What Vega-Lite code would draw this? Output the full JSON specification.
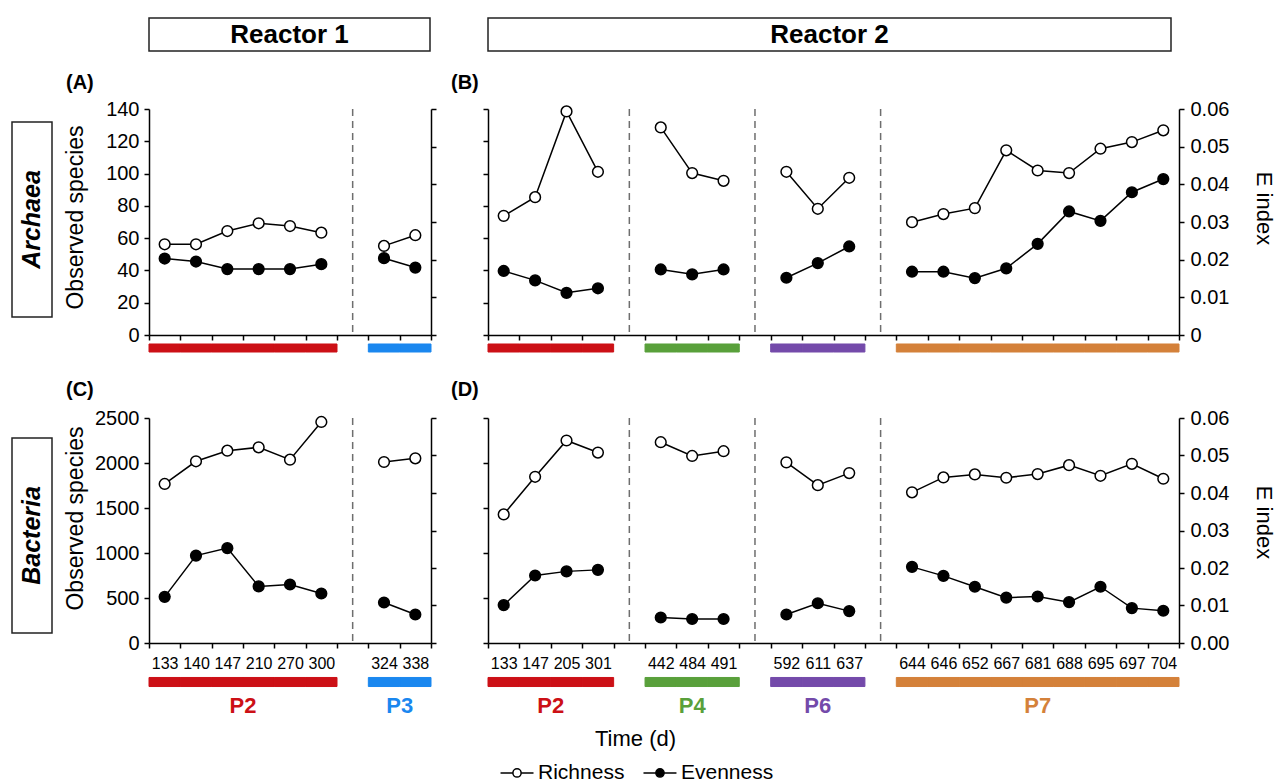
{
  "$schema": "https://vega.github.io/schema/vega-lite/v6.json",
  "padding": {"left": 11, "top": 17, "right": 0, "bottom": 0},
  "config": {
    "font": "Liberation Sans",
    "view": {"stroke": null},
    "axis": {"grid": false, "domainColor": "black", "tickColor": "black", "labelColor": "black", "titleColor": "black", "domainWidth": 1.5, "tickWidth": 1.5, "tickSize": 5, "labelFont": "Liberation Sans", "titleFont": "Liberation Sans", "titleFontWeight": "normal"},
    "title": {"font": "Liberation Sans", "color": "black"}
  },
  "datasets": {
    "r1": [
      {"sample": "133", "phase": "P2", "ar": 56.2, "ae": 0.0203, "br": 1767, "be": 0.0123},
      {"sample": "140", "phase": "P2", "ar": 56.2, "ae": 0.0195, "br": 2019, "be": 0.0233},
      {"sample": "147", "phase": "P2", "ar": 64.4, "ae": 0.0175, "br": 2137, "be": 0.0253},
      {"sample": "210", "phase": "P2", "ar": 69.2, "ae": 0.0175, "br": 2174, "be": 0.0151},
      {"sample": "270", "phase": "P2", "ar": 67.5, "ae": 0.0175, "br": 2037, "be": 0.0156},
      {"sample": "300", "phase": "P2", "ar": 63.4, "ae": 0.0188, "br": 2456, "be": 0.0132},
      {"sample": "324", "phase": "P3", "ar": 55.2, "ae": 0.0204, "br": 2011, "be": 0.0108},
      {"sample": "338", "phase": "P3", "ar": 61.8, "ae": 0.0179, "br": 2052, "be": 0.0076}
    ],
    "r2": [
      {"sample": "133", "phase": "P2", "ar": 73.8, "ae": 0.0170, "br": 1429, "be": 0.0101},
      {"sample": "147", "phase": "P2", "ar": 85.4, "ae": 0.0145, "br": 1847, "be": 0.0180},
      {"sample": "205", "phase": "P2", "ar": 138.5, "ae": 0.0112, "br": 2250, "be": 0.0191},
      {"sample": "301", "phase": "P2", "ar": 101.1, "ae": 0.0124, "br": 2116, "be": 0.0195},
      {"sample": "442", "phase": "P4", "ar": 128.6, "ae": 0.0174, "br": 2231, "be": 0.0068},
      {"sample": "484", "phase": "P4", "ar": 100.3, "ae": 0.0161, "br": 2078, "be": 0.0064},
      {"sample": "491", "phase": "P4", "ar": 95.5, "ae": 0.0174, "br": 2131, "be": 0.0064},
      {"sample": "592", "phase": "P6", "ar": 101.1, "ae": 0.0152, "br": 2007, "be": 0.0076},
      {"sample": "611", "phase": "P6", "ar": 78.2, "ae": 0.0191, "br": 1754, "be": 0.0106},
      {"sample": "637", "phase": "P6", "ar": 97.4, "ae": 0.0235, "br": 1888, "be": 0.0085},
      {"sample": "644", "phase": "P7", "ar": 69.9, "ae": 0.0168, "br": 1674, "be": 0.0203},
      {"sample": "646", "phase": "P7", "ar": 74.9, "ae": 0.0168, "br": 1840, "be": 0.0179},
      {"sample": "652", "phase": "P7", "ar": 78.6, "ae": 0.0151, "br": 1873, "be": 0.0150},
      {"sample": "667", "phase": "P7", "ar": 114.4, "ae": 0.0177, "br": 1836, "be": 0.0121},
      {"sample": "681", "phase": "P7", "ar": 101.9, "ae": 0.0242, "br": 1877, "be": 0.0124},
      {"sample": "688", "phase": "P7", "ar": 100.3, "ae": 0.0328, "br": 1976, "be": 0.0109},
      {"sample": "695", "phase": "P7", "ar": 115.4, "ae": 0.0303, "br": 1858, "be": 0.0150},
      {"sample": "697", "phase": "P7", "ar": 119.5, "ae": 0.0379, "br": 1991, "be": 0.0093},
      {"sample": "704", "phase": "P7", "ar": 126.8, "ae": 0.0414, "br": 1825, "be": 0.0086}
    ],
    "gap1": [{"sample": "g1"}],
    "gap2": [{"sample": "g1"}, {"sample": "g2"}, {"sample": "g3"}],
    "lab1": [{"t": "Reactor 1"}],
    "lab2": [{"t": "Reactor 2"}],
    "labA": [{"t": "Archaea"}],
    "labB": [{"t": "Bacteria"}],
    "leg": [{"metric": "Richness"}, {"metric": "Evenness"}]
  },
  "concat": [
    {"width": 80, "height": 33, "data": {"values": []}, "mark": "point", "encoding": {}},
    {"width": 281, "height": 33, "view": {"stroke": "#222", "strokeWidth": 1.5}, "data": {"name": "lab1"}, "mark": {"type": "text", "fontSize": 26, "fontWeight": "bold", "color": "black"}, "encoding": {"text": {"field": "t"}}},
    {"width": 683, "height": 33, "view": {"stroke": "#222", "strokeWidth": 1.5}, "data": {"name": "lab2"}, "mark": {"type": "text", "fontSize": 26, "fontWeight": "bold", "color": "black"}, "encoding": {"text": {"field": "t"}}},

    {"width": 80, "height": 58, "data": {"values": []}, "mark": "point", "encoding": {}},
    {"width": 1, "height": 1, "data": {"values": []}, "mark": "point", "encoding": {}},
    {"width": 1, "height": 1, "data": {"values": []}, "mark": "point", "encoding": {}},

    {"width": 40, "height": 226, "data": {"name": "labA"},
     "layer": [
       {"mark": {"type": "rect", "fill": null, "fillOpacity": 0, "stroke": "#222", "strokeWidth": 1.5},
        "encoding": {"y": {"datum": 0.9425, "type": "quantitative", "scale": {"domain": [0, 1]}, "axis": null}, "y2": {"datum": 0.0796}}},
       {"mark": {"type": "text", "angle": 270, "fontSize": 25, "fontWeight": "bold", "fontStyle": "italic", "color": "black"},
        "encoding": {"y": {"datum": 0.511, "type": "quantitative"}, "text": {"field": "t"}}}
     ]},
    {
      "width": 282, "height": 226, "data": {"name": "r1"},
      "title": {"text": "(A)", "anchor": "start", "frame": "group", "dx": -83, "dy": 26, "offset": 16, "baseline": "alphabetic", "fontSize": 20, "fontWeight": "bold"},
      "encoding": {"x": {"field": "sample", "type": "nominal", "scale": {"type": "band", "domain": ["133","140","147","210","270","300","g1","324","338"], "paddingInner": 0, "paddingOuter": 0}, "axis": {"labels": false, "title": null, "tickBand": "extent"}}},
      "layer": [
        {"data": {"name": "gap1"}, "mark": {"type": "rule", "color": "#6e6e6e", "strokeWidth": 1.5, "strokeDash": [7, 5]}, "encoding": {}},
        {"encoding": {"y": {"field": "ar", "type": "quantitative", "scale": {"domain": [0, 140], "nice": false}, "axis": {"values": [0, 20, 40, 60, 80, 100, 120, 140], "title": "Observed species", "titleFontSize": 23, "titleX": -74, "titleY": 108, "titleAlign": "center", "titleBaseline": "middle", "titleAngle": 270, "labelFontSize": 20, "labelPadding": 5}}},
         "layer": [
           {"mark": {"type": "line", "color": "black", "strokeWidth": 1.5}, "encoding": {"detail": {"field": "phase"}}},
           {"mark": {"type": "point", "filled": true, "fill": "white", "stroke": "black", "strokeWidth": 1.5, "size": 115, "opacity": 1}, "encoding": {}}
         ]},
        {"encoding": {"y": {"field": "ae", "type": "quantitative", "scale": {"domain": [0, 0.06], "nice": false}, "axis": {"orient": "right", "values": [0, 0.01, 0.02, 0.03, 0.04, 0.05, 0.06], "labels": false, "title": null}}},
         "layer": [
           {"mark": {"type": "line", "color": "black", "strokeWidth": 1.5}, "encoding": {"detail": {"field": "phase"}}},
           {"mark": {"type": "point", "filled": true, "fill": "black", "stroke": "black", "strokeWidth": 1.5, "size": 115, "opacity": 1}, "encoding": {}}
         ]}
      ],
      "resolve": {"scale": {"y": "independent"}}
    },
    {
      "width": 691, "height": 226, "data": {"name": "r2"},
      "title": {"text": "(B)", "anchor": "start", "frame": "group", "dx": -37, "dy": 26, "offset": 16, "baseline": "alphabetic", "fontSize": 20, "fontWeight": "bold"},
      "encoding": {"x": {"field": "sample", "type": "nominal", "scale": {"type": "band", "domain": ["133","147","205","301","g1","442","484","491","g2","592","611","637","g3","644","646","652","667","681","688","695","697","704"], "paddingInner": 0, "paddingOuter": 0}, "axis": {"labels": false, "title": null, "tickBand": "extent"}}},
      "layer": [
        {"data": {"name": "gap2"}, "mark": {"type": "rule", "color": "#6e6e6e", "strokeWidth": 1.5, "strokeDash": [7, 5]}, "encoding": {}},
        {"encoding": {"y": {"field": "ar", "type": "quantitative", "scale": {"domain": [0, 140], "nice": false}, "axis": {"values": [0, 20, 40, 60, 80, 100, 120, 140], "labels": false, "title": null}}},
         "layer": [
           {"mark": {"type": "line", "color": "black", "strokeWidth": 1.5}, "encoding": {"detail": {"field": "phase"}}},
           {"mark": {"type": "point", "filled": true, "fill": "white", "stroke": "black", "strokeWidth": 1.5, "size": 115, "opacity": 1}, "encoding": {}}
         ]},
        {"encoding": {"y": {"field": "ae", "type": "quantitative", "scale": {"domain": [0, 0.06], "nice": false}, "axis": {"orient": "right", "values": [0, 0.01, 0.02, 0.03, 0.04, 0.05, 0.06], "format": ".2f", "labelExpr": "datum.value == 0 ? '0' : datum.label", "labelFontSize": 20, "labelPadding": 6, "title": "E index", "titleFontSize": 22, "titleX": 84, "titleY": 99, "titleAlign": "center", "titleBaseline": "middle", "titleAngle": 90}}},
         "layer": [
           {"mark": {"type": "line", "color": "black", "strokeWidth": 1.5}, "encoding": {"detail": {"field": "phase"}}},
           {"mark": {"type": "point", "filled": true, "fill": "black", "stroke": "black", "strokeWidth": 1.5, "size": 115, "opacity": 1}, "encoding": {}}
         ]}
      ],
      "resolve": {"scale": {"y": "independent"}}
    },

    {"width": 1, "height": 26, "data": {"values": []}, "mark": "point", "encoding": {}},
    {"width": 282, "height": 26, "data": {"name": "r1"}, "mark": {"type": "rect", "strokeWidth": 1},
     "encoding": {"x": {"field": "sample", "type": "nominal", "scale": {"type": "band", "domain": ["133","140","147","210","270","300","g1","324","338"], "paddingInner": 0, "paddingOuter": 0}, "axis": null},
       "y": {"datum": 0.654, "type": "quantitative", "scale": {"domain": [0, 1]}, "axis": null}, "y2": {"datum": 0.346},
       "color": {"field": "phase", "type": "nominal", "scale": {"domain": ["P2","P3","P4","P6","P7"], "range": ["#cc1016","#1a87ef","#59a03b","#744aaa","#d4813a"]}, "legend": null},
       "stroke": {"field": "phase", "type": "nominal", "scale": {"domain": ["P2","P3","P4","P6","P7"], "range": ["#cc1016","#1a87ef","#59a03b","#744aaa","#d4813a"]}, "legend": null}}},
    {"width": 691, "height": 26, "data": {"name": "r2"}, "mark": {"type": "rect", "strokeWidth": 1},
     "encoding": {"x": {"field": "sample", "type": "nominal", "scale": {"type": "band", "domain": ["133","147","205","301","g1","442","484","491","g2","592","611","637","g3","644","646","652","667","681","688","695","697","704"], "paddingInner": 0, "paddingOuter": 0}, "axis": null},
       "y": {"datum": 0.654, "type": "quantitative", "scale": {"domain": [0, 1]}, "axis": null}, "y2": {"datum": 0.346},
       "color": {"field": "phase", "type": "nominal", "scale": {"domain": ["P2","P3","P4","P6","P7"], "range": ["#cc1016","#1a87ef","#59a03b","#744aaa","#d4813a"]}, "legend": null},
       "stroke": {"field": "phase", "type": "nominal", "scale": {"domain": ["P2","P3","P4","P6","P7"], "range": ["#cc1016","#1a87ef","#59a03b","#744aaa","#d4813a"]}, "legend": null}}},

    {"width": 1, "height": 57, "data": {"values": []}, "mark": "point", "encoding": {}},
    {"width": 1, "height": 1, "data": {"values": []}, "mark": "point", "encoding": {}},
    {"width": 1, "height": 1, "data": {"values": []}, "mark": "point", "encoding": {}},

    {"width": 40, "height": 225, "data": {"name": "labB"},
     "layer": [
       {"mark": {"type": "rect", "fill": null, "fillOpacity": 0, "stroke": "#222", "strokeWidth": 1.5},
        "encoding": {"y": {"datum": 0.911, "type": "quantitative", "scale": {"domain": [0, 1]}, "axis": null}, "y2": {"datum": 0.044}}},
       {"mark": {"type": "text", "angle": 270, "fontSize": 25, "fontWeight": "bold", "fontStyle": "italic", "color": "black"},
        "encoding": {"y": {"datum": 0.478, "type": "quantitative"}, "text": {"field": "t"}}}
     ]},
    {
      "width": 282, "height": 225, "data": {"name": "r1"},
      "title": {"text": "(C)", "anchor": "start", "frame": "group", "dx": -83, "dy": 26, "offset": 18, "baseline": "alphabetic", "fontSize": 20, "fontWeight": "bold"},
      "encoding": {"x": {"field": "sample", "type": "nominal", "scale": {"type": "band", "domain": ["133","140","147","210","270","300","g1","324","338"], "paddingInner": 0, "paddingOuter": 0}, "axis": {"labelAngle": 0, "labelFontSize": 16, "labelPadding": 7, "labelOverlap": false, "labelExpr": "datum.value == 'g1' || datum.value == 'g2' || datum.value == 'g3' ? '' : datum.label", "title": null, "tickBand": "extent"}}},
      "layer": [
        {"data": {"name": "gap1"}, "mark": {"type": "rule", "color": "#6e6e6e", "strokeWidth": 1.5, "strokeDash": [7, 5]}, "encoding": {}},
        {"encoding": {"y": {"field": "br", "type": "quantitative", "scale": {"domain": [0, 2500], "nice": false}, "axis": {"values": [0, 500, 1000, 1500, 2000, 2500], "format": "d", "title": "Observed species", "titleFontSize": 23, "titleX": -74, "titleY": 100, "titleAlign": "center", "titleBaseline": "middle", "titleAngle": 270, "labelFontSize": 20, "labelPadding": 5}}},
         "layer": [
           {"mark": {"type": "line", "color": "black", "strokeWidth": 1.5}, "encoding": {"detail": {"field": "phase"}}},
           {"mark": {"type": "point", "filled": true, "fill": "white", "stroke": "black", "strokeWidth": 1.5, "size": 115, "opacity": 1}, "encoding": {}}
         ]},
        {"encoding": {"y": {"field": "be", "type": "quantitative", "scale": {"domain": [0, 0.06], "nice": false}, "axis": {"orient": "right", "values": [0, 0.01, 0.02, 0.03, 0.04, 0.05, 0.06], "labels": false, "title": null}}},
         "layer": [
           {"mark": {"type": "line", "color": "black", "strokeWidth": 1.5}, "encoding": {"detail": {"field": "phase"}}},
           {"mark": {"type": "point", "filled": true, "fill": "black", "stroke": "black", "strokeWidth": 1.5, "size": 115, "opacity": 1}, "encoding": {}}
         ]}
      ],
      "resolve": {"scale": {"y": "independent"}}
    },
    {
      "width": 691, "height": 225, "data": {"name": "r2"},
      "title": {"text": "(D)", "anchor": "start", "frame": "group", "dx": -37, "dy": 26, "offset": 18, "baseline": "alphabetic", "fontSize": 20, "fontWeight": "bold"},
      "encoding": {"x": {"field": "sample", "type": "nominal", "scale": {"type": "band", "domain": ["133","147","205","301","g1","442","484","491","g2","592","611","637","g3","644","646","652","667","681","688","695","697","704"], "paddingInner": 0, "paddingOuter": 0}, "axis": {"labelAngle": 0, "labelFontSize": 16, "labelPadding": 7, "labelOverlap": false, "labelExpr": "datum.value == 'g1' || datum.value == 'g2' || datum.value == 'g3' ? '' : datum.label", "title": "Time (d)", "titleFontSize": 22, "titleX": 147, "titleY": 95, "titleAlign": "center", "titleBaseline": "middle", "tickBand": "extent"}}},
      "layer": [
        {"data": {"name": "gap2"}, "mark": {"type": "rule", "color": "#6e6e6e", "strokeWidth": 1.5, "strokeDash": [7, 5]}, "encoding": {}},
        {"encoding": {"y": {"field": "br", "type": "quantitative", "scale": {"domain": [0, 2500], "nice": false}, "axis": {"values": [0, 500, 1000, 1500, 2000, 2500], "labels": false, "title": null}}},
         "layer": [
           {"mark": {"type": "line", "color": "black", "strokeWidth": 1.5}, "encoding": {"detail": {"field": "phase"}}},
           {"mark": {"type": "point", "filled": true, "fill": "white", "stroke": "black", "strokeWidth": 1.5, "size": 115, "opacity": 1}, "encoding": {}}
         ]},
        {"encoding": {"y": {"field": "be", "type": "quantitative", "scale": {"domain": [0, 0.06], "nice": false}, "axis": {"orient": "right", "values": [0, 0.01, 0.02, 0.03, 0.04, 0.05, 0.06], "format": ".2f", "labelFontSize": 20, "labelPadding": 6, "title": "E index", "titleFontSize": 22, "titleX": 84, "titleY": 104, "titleAlign": "center", "titleBaseline": "middle", "titleAngle": 90}}},
         "layer": [
           {"mark": {"type": "line", "color": "black", "strokeWidth": 1.5}, "encoding": {"detail": {"field": "phase"}}},
           {"mark": {"type": "point", "filled": true, "fill": "black", "stroke": "black", "strokeWidth": 1.5, "size": 115, "opacity": 1}, "encoding": {}}
         ]}
      ],
      "resolve": {"scale": {"y": "independent"}}
    },

    {"width": 1, "height": 78, "data": {"values": []}, "mark": "point", "encoding": {}},
    {"width": 282, "height": 78, "data": {"name": "r1"},
     "encoding": {"x": {"field": "sample", "type": "nominal", "scale": {"type": "band", "domain": ["133","140","147","210","270","300","g1","324","338"], "paddingInner": 0, "paddingOuter": 0}, "axis": null},
       "color": {"field": "phase", "type": "nominal", "scale": {"domain": ["P2","P3","P4","P6","P7"], "range": ["#cc1016","#1a87ef","#59a03b","#744aaa","#d4813a"]}, "legend": null}},
     "layer": [
       {"mark": {"type": "rect", "strokeWidth": 1}, "encoding": {
         "y": {"datum": 0.558, "type": "quantitative", "scale": {"domain": [0, 1]}, "axis": null}, "y2": {"datum": 0.442},
         "stroke": {"field": "phase", "type": "nominal", "scale": {"domain": ["P2","P3","P4","P6","P7"], "range": ["#cc1016","#1a87ef","#59a03b","#744aaa","#d4813a"]}, "legend": null}}},
       {"transform": [
          {"joinaggregate": [{"op": "count", "as": "n"}], "groupby": ["phase"]},
          {"window": [{"op": "row_number", "as": "rn"}], "groupby": ["phase"]},
          {"filter": "datum.rn == ceil(datum.n / 2)"}],
        "layer": [
          {"transform": [{"filter": "datum.n % 2 == 0"}], "mark": {"type": "text", "fontSize": 22, "fontWeight": "bold"}, "encoding": {"x": {"field": "sample", "type": "nominal", "bandPosition": 1}, "y": {"datum": 0.192, "type": "quantitative"}, "text": {"field": "phase"}}},
          {"transform": [{"filter": "datum.n % 2 == 1"}], "mark": {"type": "text", "fontSize": 22, "fontWeight": "bold"}, "encoding": {"x": {"field": "sample", "type": "nominal", "bandPosition": 0.5}, "y": {"datum": 0.192, "type": "quantitative"}, "text": {"field": "phase"}}}
        ]}
     ]},
    {"width": 691, "height": 78, "data": {"name": "r2"},
     "encoding": {"x": {"field": "sample", "type": "nominal", "scale": {"type": "band", "domain": ["133","147","205","301","g1","442","484","491","g2","592","611","637","g3","644","646","652","667","681","688","695","697","704"], "paddingInner": 0, "paddingOuter": 0}, "axis": null},
       "color": {"field": "phase", "type": "nominal", "scale": {"domain": ["P2","P3","P4","P6","P7"], "range": ["#cc1016","#1a87ef","#59a03b","#744aaa","#d4813a"]}, "legend": null}},
     "layer": [
       {"mark": {"type": "rect", "strokeWidth": 1}, "encoding": {
         "y": {"datum": 0.558, "type": "quantitative", "scale": {"domain": [0, 1]}, "axis": null}, "y2": {"datum": 0.442},
         "stroke": {"field": "phase", "type": "nominal", "scale": {"domain": ["P2","P3","P4","P6","P7"], "range": ["#cc1016","#1a87ef","#59a03b","#744aaa","#d4813a"]}, "legend": null}}},
       {"transform": [
          {"joinaggregate": [{"op": "count", "as": "n"}], "groupby": ["phase"]},
          {"window": [{"op": "row_number", "as": "rn"}], "groupby": ["phase"]},
          {"filter": "datum.rn == ceil(datum.n / 2)"}],
        "layer": [
          {"transform": [{"filter": "datum.n % 2 == 0"}], "mark": {"type": "text", "fontSize": 22, "fontWeight": "bold"}, "encoding": {"x": {"field": "sample", "type": "nominal", "bandPosition": 1}, "y": {"datum": 0.192, "type": "quantitative"}, "text": {"field": "phase"}}},
          {"transform": [{"filter": "datum.n % 2 == 1"}], "mark": {"type": "text", "fontSize": 22, "fontWeight": "bold"}, "encoding": {"x": {"field": "sample", "type": "nominal", "bandPosition": 0.5}, "y": {"datum": 0.192, "type": "quantitative"}, "text": {"field": "phase"}}}
        ]}
     ]},

    {"width": 1, "height": 63, "data": {"values": []}, "mark": "point", "encoding": {}},
    {"width": 1, "height": 1, "data": {"values": []}, "mark": "point", "encoding": {}},
    {"width": 201, "height": 63, "data": {"name": "leg"},
     "encoding": {"x": {"field": "metric", "type": "nominal", "scale": {"type": "point", "domain": ["Richness", "Evenness"], "padding": 0.203}, "axis": null},
       "y": {"datum": 0.175, "type": "quantitative", "scale": {"domain": [0, 1]}, "axis": null}},
     "layer": [
       {"mark": {"type": "point", "shape": "M-2,0H-0.5M0.5,0H2M0.5,0A0.5,0.5 0 1 1 -0.5,0A0.5,0.5 0 1 1 0.5,0Z", "size": 272, "filled": true, "stroke": "black", "strokeWidth": 1.5, "opacity": 1},
        "encoding": {"fill": {"field": "metric", "type": "nominal", "scale": {"domain": ["Richness", "Evenness"], "range": ["white", "black"]}, "legend": null}}},
       {"mark": {"type": "text", "align": "left", "dx": 21, "fontSize": 21, "color": "black"}, "encoding": {"text": {"field": "metric"}}}
     ]}
  ],
  "columns": 3,
  "spacing": {"row": 0, "column": 57},
  "bounds": "flush"
}
